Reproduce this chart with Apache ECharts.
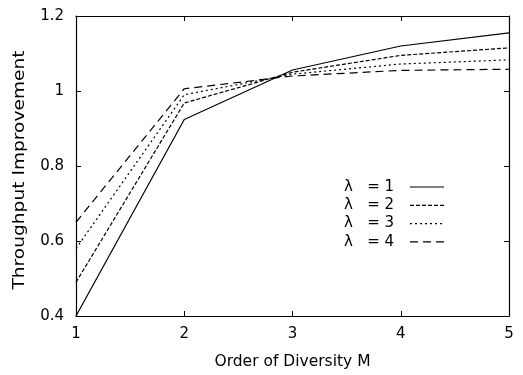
<!DOCTYPE html>
<html><head><meta charset="utf-8">
<script src="https://cdn.jsdelivr.net/npm/echarts@6/dist/echarts.min.js"></script>
<style>html,body{margin:0;padding:0;background:#fff}#c{width:523px;height:375px}</style>
</head><body><div id="c"></div>
<script>
var orders = [1, 2, 3, 4, 5];
var seriesNames = ['λ   = 1', 'λ   = 2', 'λ   = 3', 'λ   = 4'];
var lambda1 = [0.40, 0.924, 1.056, 1.12, 1.155];
var lambda2 = [0.49, 0.968, 1.050, 1.095, 1.115];
var lambda3 = [0.58, 0.990, 1.045, 1.072, 1.083];
var lambda4 = [0.65, 1.006, 1.040, 1.055, 1.058];
var yTicks = [0.4, 0.6, 0.8, 1, 1.2];
var xTitle = 'Order of Diversity M';
var yTitle = 'Throughput Improvement';

var allVals = [lambda1, lambda2, lambda3, lambda4];
var dashes = ['solid', [4, 2], [2, 3], [8, 5]];
var dashArr = [null, [4, 2], [2, 3], [8, 5]];
var font = '"DejaVu Sans", sans-serif';

var chart = echarts.init(document.getElementById('c'), null, {renderer: 'canvas'});
var series = allVals.map(function (vals, i) {
  return {
    name: seriesNames[i], type: 'line', symbol: 'none', animation: false,
    data: orders.map(function (o, j) { return [o, vals[j]]; }),
    lineStyle: {color: '#000', width: 1.2, type: dashes[i]},
    itemStyle: {color: '#000'}
  };
});
var legendEls = [];
seriesNames.forEach(function (n, i) {
  var y = 187 + 18.3 * i;
  legendEls.push({type: 'text', x: 344, y: y,
    style: {text: n, font: '15px ' + font, fill: '#000', verticalAlign: 'middle'}});
  legendEls.push({type: 'line', shape: {x1: 410, y1: y, x2: 444, y2: y},
    style: {stroke: '#000', lineWidth: 1.2, lineDash: dashArr[i]}});
});
legendEls.push({type: 'text', x: 20, y: 170, rotation: Math.PI / 2, scaleX: 1.24,
  style: {text: yTitle, font: '15px ' + font, fill: '#000', align: 'center', verticalAlign: 'middle'}});
var axisCommon = {
  axisLine: {show: true, lineStyle: {color: '#000', width: 1.2}},
  axisTick: {show: true, inside: true, length: 5, lineStyle: {color: '#000', width: 1}},
  splitLine: {show: false}
};
chart.setOption({
  backgroundColor: '#fff',
  animation: false,
  grid: {left: 76, right: 14, top: 16, bottom: 56, containLabel: false},
  xAxis: [
    Object.assign({type: 'value', min: 1, max: 5, interval: 1, position: 'bottom',
      name: xTitle, nameLocation: 'middle', nameGap: 38,
      nameTextStyle: {fontFamily: font, fontSize: 15.5, color: '#000'},
      axisLabel: {fontFamily: font, fontSize: 15, color: '#000', margin: 11}}, axisCommon),
    Object.assign({type: 'value', min: 1, max: 5, interval: 1, position: 'top',
      axisLabel: {show: false}}, axisCommon)
  ],
  yAxis: [
    Object.assign({type: 'value', min: yTicks[0], max: yTicks[yTicks.length - 1], interval: 0.2, position: 'left',
      axisLabel: {fontFamily: font, fontSize: 15, color: '#000', margin: 12}}, axisCommon),
    Object.assign({type: 'value', min: yTicks[0], max: yTicks[yTicks.length - 1], interval: 0.2, position: 'right',
      axisLabel: {show: false}}, axisCommon)
  ],
  graphic: legendEls,
  series: series
});
</script></body></html>
